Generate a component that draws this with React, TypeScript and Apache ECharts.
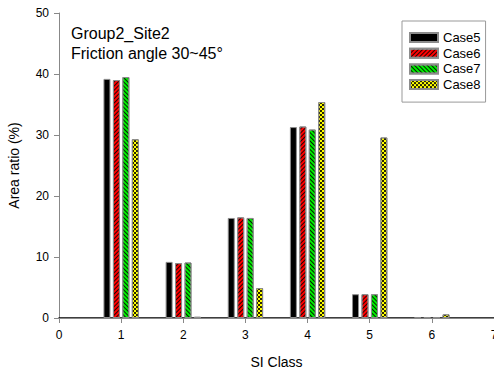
import React, { useEffect, useRef } from "react";
import * as echarts from "echarts";

const classes = [1, 2, 3, 4, 5, 6];
const case5 = [39.2, 9.2, 16.4, 31.3, 3.9, 0.1];
const case6 = [39.0, 9.0, 16.5, 31.4, 3.9, 0.1];
const case7 = [39.5, 9.1, 16.4, 30.9, 3.9, 0.1];
const case8 = [29.3, 0.2, 4.9, 35.4, 29.6, 0.6];
const seriesNames = ["Case5", "Case6", "Case7", "Case8"];
const titleLines = ["Group2_Site2", "Friction angle 30~45°"];

const FONT = "'Liberation Sans', Arial, sans-serif";

export default function App() {
  const ref = useRef<HTMLDivElement>(null);
  useEffect(() => {
    document.body.style.margin = "0";
    document.body.style.overflow = "hidden";
    if (!ref.current) return;
    const chart = echarts.init(ref.current, null, { renderer: "svg", width: 494, height: 372 });
    const values = [case5, case6, case7, case8];
    const colors = ["#000000", "#ff0000", "#00ee00", "#ffff00"];
    const decals: any[] = [
      { symbol: "none" },
      {
        symbol: "rect",
        symbolSize: 1,
        color: "rgba(0,0,0,0.85)",
        dashArrayX: [1, 0],
        dashArrayY: [1, 2],
        rotation: -Math.PI / 4,
      },
      {
        symbol: "rect",
        symbolSize: 1,
        color: "rgba(0,0,0,0.85)",
        dashArrayX: [1, 0],
        dashArrayY: [1, 2],
        rotation: Math.PI / 4,
      },
      {
        symbol: "rect",
        symbolSize: 1,
        color: "rgba(0,0,0,0.85)",
        dashArrayX: [[2, 2], [0, 2, 2, 0]],
        dashArrayY: [2, 0],
        rotation: 0,
      },
    ];
    const series = seriesNames.map((name, i) => ({
      name,
      type: "bar",
      xAxisIndex: 0,
      yAxisIndex: 0,
      barWidth: 7,
      barGap: "35%",
      data: classes.map((c, j) => [c, values[i][j]]),
      itemStyle: {
        color: colors[i],
        borderColor: "#8c8c8c",
        borderWidth: 1,
        decal: i === 0 ? undefined : decals[i],
      },
    }));
    chart.setOption({
      animation: false,
      textStyle: { fontFamily: FONT },
      title: {
        text: titleLines.join("\n"),
        left: 71,
        top: 23,
        padding: 0,
        textStyle: {
          fontFamily: FONT,
          fontSize: 16,
          fontWeight: "normal",
          color: "#000",
          lineHeight: 20,
        },
      },
      legend: {
        orient: "vertical",
        left: 402,
        top: 21,
        padding: [10, 5, 11, 7],
        itemWidth: 28,
        itemHeight: 9,
        itemGap: 2.7,
        borderColor: "#999",
        borderWidth: 1,
        icon: "rect",
        textStyle: { fontFamily: FONT, fontSize: 13, lineHeight: 12, color: "#000" },
        data: seriesNames,
      },
      grid: {
        left: 59,
        top: 13,
        right: 0,
        bottom: 54,
        containLabel: false,
        outerBoundsMode: "none",
      },
      xAxis: [
        {
          type: "value",
          min: 0,
          max: 7,
          interval: 1,
          name: "SI Class",
          nameLocation: "middle",
          nameGap: 37,
          nameTextStyle: { fontFamily: FONT, fontSize: 14, color: "#000" },
          axisLine: { show: true, onZero: false, lineStyle: { color: "#000", width: 1.5 } },
          axisTick: { show: true, length: 5, lineStyle: { color: "#888" } },
          axisLabel: { margin: 11, fontFamily: FONT, fontSize: 12, color: "#000" },
          splitLine: { show: false },
        },
        {
          type: "value",
          position: "top",
          min: 0,
          max: 7,
          interval: 1,
          axisLine: { show: true, lineStyle: { color: "#888" } },
          axisTick: { show: false },
          axisLabel: { show: false },
          splitLine: { show: false },
        },
      ],
      yAxis: {
        type: "value",
        min: 0,
        max: 50,
        interval: 10,
        name: "Area ratio (%)",
        nameLocation: "middle",
        nameGap: 38,
        nameTextStyle: { fontFamily: FONT, fontSize: 14, color: "#000" },
        axisLine: { show: true, lineStyle: { color: "#888" } },
        axisTick: { show: true, length: 5, lineStyle: { color: "#888" } },
        axisLabel: { margin: 10, fontFamily: FONT, fontSize: 12, color: "#000" },
        splitLine: { show: false },
      },
      series,
    });
    return () => chart.dispose();
  }, []);
  return <div ref={ref} style={{ width: 494, height: 372, position: "absolute", left: 0, top: 0 }} />;
}
